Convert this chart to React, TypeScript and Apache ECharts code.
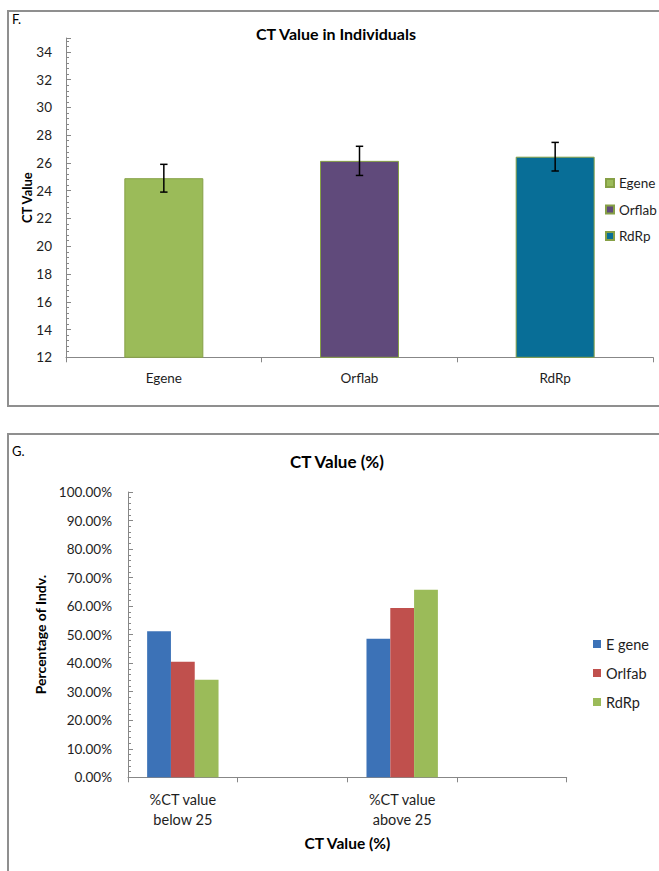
import React, { useEffect, useRef } from "react";
import * as echarts from "echarts";

// ---- Chart F data ----
const topCategories = ["Egene", "Orflab", "RdRp"];
const topValues = [24.9, 26.15, 26.45];
const topErrors = [1.0, 1.05, 1.03];
const topTicksMin = 12;
const topTicksMax = 35;

// ---- Chart G data ----
const bottomCategories = ["%CT value\nbelow 25", "", "%CT value\nabove 25", ""];
const bottomSeriesNames = ["E gene", "Orlfab", "RdRp"];
const eGeneValues = [51.2, null, 48.6, null];
const orlfabValues = [40.5, null, 59.3, null];
const rdrpValues = [34.2, null, 65.7, null];

const FONT = 'Lato, "Open Sans", sans-serif';
const TXT = "#1e1e1e";
const AXIS = "#878787";

const topColors = ["#9BBB59", "#604A7B", "#086E97"];
const bottomColors = ["#3C72B7", "#C0504D", "#9BBB59"];

function buildTop(): any {
  const barSeries = topCategories.map((name, i) => ({
    name,
    type: "bar",
    barWidth: 79,
    barGap: "-100%",
    data: topCategories.map((_, j) => (j === i ? topValues[i] : null)),
    itemStyle: { color: topColors[i], borderColor: "#86A046", borderWidth: 1 },
    emphasis: { disabled: true },
  }));
  const errData = topCategories.map((_, i) => [
    i,
    topValues[i] - topErrors[i],
    topValues[i] + topErrors[i],
  ]);
  return {
    animation: false,
    textStyle: { fontFamily: FONT },
    graphic: [
      {
        type: "rect",
        shape: { x: 8, y: 11, width: 700, height: 395 },
        style: { fill: "none", stroke: "#8f8f8f", lineWidth: 2 },
      },
      {
        type: "text",
        x: 12,
        y: 19,
        style: { text: "F.", font: `13px ${FONT}`, fill: "#000", textVerticalAlign: "middle" },
      },
      {
        type: "text",
        x: 336,
        y: 33,
        style: {
          text: "CT Value in Individuals",
          font: `bold 16px ${FONT}`,
          fill: "#000",
          textAlign: "center",
          textVerticalAlign: "middle",
        },
      },
    ],
    grid: { left: 66, right: 6, top: 38, bottom: 62.7 },
    legend: {
      data: topCategories,
      orient: "vertical",
      left: 605,
      top: 175,
      padding: 0,
      itemWidth: 8,
      itemHeight: 8,
      itemGap: 10.5,
      icon: "rect",
      textStyle: { fontFamily: FONT, fontSize: 13.5, lineHeight: 16, color: TXT },
    },
    xAxis: {
      type: "category",
      data: topCategories,
      axisLine: { lineStyle: { color: AXIS, width: 1 } },
      axisTick: { show: true, length: 5, lineStyle: { color: AXIS } },
      axisLabel: { fontFamily: FONT, fontSize: 13.5, color: TXT, margin: 14 },
    },
    yAxis: {
      type: "value",
      min: topTicksMin,
      max: topTicksMax,
      interval: 2,
      name: "CT Value",
      nameLocation: "middle",
      nameGap: 33,
      nameMoveOverlap: false,
      nameRotate: 90,
      nameTextStyle: { fontFamily: FONT, fontSize: 13, fontWeight: "bold", color: "#000" },
      axisLine: { show: true, lineStyle: { color: AXIS, width: 1 } },
      axisTick: { show: true, inside: true, length: 5, lineStyle: { color: AXIS } },
      minorTick: { show: true, splitNumber: 5, length: 3, lineStyle: { color: AXIS } },
      splitLine: { show: false },
      axisLabel: {
        fontFamily: FONT,
        fontSize: 13.5,
        color: TXT,
        margin: 14,
        formatter: (v: number) => (v === topTicksMax ? "" : String(v)),
      },
    },
    series: [
      ...barSeries,
      {
        type: "custom",
        name: "err",
        data: errData,
        encode: { x: 0, y: [1, 2] },
        z: 10,
        silent: true,
        renderItem: (params: any, api: any) => {
          const x = api.value(0);
          const lo = api.value(1);
          const hi = api.value(2);
          const p1 = api.coord([x, hi]);
          const p2 = api.coord([x, lo]);
          const hw = 3.7;
          const style = { stroke: "#000", lineWidth: 1.5 };
          return {
            type: "group",
            children: [
              { type: "line", shape: { x1: p1[0], y1: p1[1], x2: p2[0], y2: p2[1] }, style },
              { type: "line", shape: { x1: p1[0] - hw, y1: p1[1], x2: p1[0] + hw, y2: p1[1] }, style },
              { type: "line", shape: { x1: p2[0] - hw, y1: p2[1], x2: p2[0] + hw, y2: p2[1] }, style },
            ],
          };
        },
      },
    ],
  };
}

function buildBottom(): any {
  const vals = [eGeneValues, orlfabValues, rdrpValues];
  return {
    animation: false,
    textStyle: { fontFamily: FONT },
    graphic: [
      {
        type: "rect",
        shape: { x: 8, y: 14, width: 700, height: 500 },
        style: { fill: "none", stroke: "#8f8f8f", lineWidth: 2 },
      },
      {
        type: "text",
        x: 12,
        y: 31,
        style: { text: "G.", font: `13px ${FONT}`, fill: "#000", textVerticalAlign: "middle" },
      },
      {
        type: "text",
        x: 337,
        y: 41,
        style: {
          text: "CT Value (%)",
          font: `bold 17px ${FONT}`,
          fill: "#000",
          textAlign: "center",
          textVerticalAlign: "middle",
        },
      },
    ],
    grid: { left: 128, right: 92.3, top: 72, bottom: 93.7 },
    legend: {
      data: bottomSeriesNames,
      orient: "vertical",
      left: 593,
      top: 215.5,
      padding: 0,
      itemWidth: 8,
      itemHeight: 8,
      itemGap: 12,
      icon: "rect",
      textStyle: { fontFamily: FONT, fontSize: 14.5, lineHeight: 17, color: TXT },
    },
    xAxis: {
      type: "category",
      data: bottomCategories,
      name: "CT Value (%)",
      nameLocation: "middle",
      nameGap: 58,
      nameMoveOverlap: false,
      nameTextStyle: { fontFamily: FONT, fontSize: 15.5, fontWeight: "bold", color: "#000" },
      axisLine: { lineStyle: { color: AXIS, width: 1 } },
      axisTick: { show: true, length: 5, lineStyle: { color: AXIS } },
      axisLabel: {
        fontFamily: FONT,
        fontSize: 14.5,
        lineHeight: 20,
        color: TXT,
        margin: 12,
        interval: 0,
      },
    },
    yAxis: {
      type: "value",
      min: 0,
      max: 100,
      interval: 10,
      name: "Percentage of Indv.",
      nameLocation: "middle",
      nameGap: 81,
      nameMoveOverlap: false,
      nameRotate: 90,
      nameTextStyle: { fontFamily: FONT, fontSize: 14, fontWeight: "bold", color: "#000" },
      axisLine: { show: true, lineStyle: { color: AXIS, width: 1 } },
      axisTick: { show: true, inside: true, length: 5, lineStyle: { color: AXIS } },
      minorTick: { show: true, splitNumber: 5, length: 3, lineStyle: { color: AXIS } },
      splitLine: { show: false },
      axisLabel: {
        fontFamily: FONT,
        fontSize: 13.5,
        color: TXT,
        margin: 16,
        formatter: (v: number) => v.toFixed(2) + "%",
      },
    },
    series: bottomSeriesNames.map((name, i) => ({
      name,
      type: "bar",
      barWidth: 23.8,
      barGap: "0%",
      data: vals[i],
      itemStyle: { color: bottomColors[i] },
      emphasis: { disabled: true },
    })),
  };
}

export default function App() {
  const topRef = useRef<HTMLDivElement>(null);
  const botRef = useRef<HTMLDivElement>(null);
  useEffect(() => {
    const c1 = echarts.init(topRef.current!, undefined, { renderer: "svg" });
    c1.setOption(buildTop());
    const c2 = echarts.init(botRef.current!, undefined, { renderer: "svg" });
    c2.setOption(buildBottom());
    return () => {
      c1.dispose();
      c2.dispose();
    };
  }, []);
  return (
    <div style={{ position: "absolute", left: 0, top: 0, width: 659, height: 871, background: "#fff" }}>
      <div ref={topRef} style={{ position: "absolute", left: 0, top: 0, width: 659, height: 420 }} />
      <div ref={botRef} style={{ position: "absolute", left: 0, top: 420, width: 659, height: 451 }} />
    </div>
  );
}
